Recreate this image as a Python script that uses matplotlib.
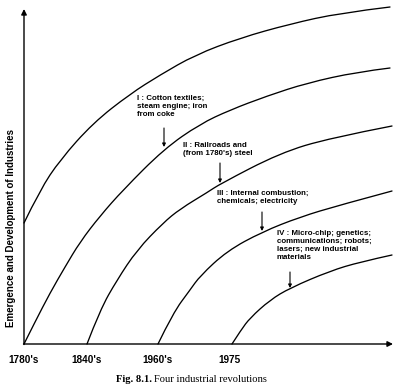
import matplotlib
matplotlib.use("Agg")
import matplotlib.pyplot as plt
from matplotlib.path import Path
from matplotlib.patches import PathPatch

# Curves: (x, y), in chart units (origin at 1780's)
wave_a_x = [0, 16, 36, 69, 106, 136, 171, 216, 266, 316, 366]
wave_a_y = [121, 154, 184, 221, 250, 269, 289, 306, 320, 331, 337]

wave1_x = [0, 11, 26, 41, 56, 76, 99, 140, 176, 206, 243, 283, 333, 366]
wave1_y = [0, 22, 51, 77, 102, 128, 154, 195, 220, 234, 248, 261, 272, 276]

wave2_x = [63, 76, 93, 113, 139, 156, 184, 196, 256, 306, 368]
wave2_y = [0, 34, 64, 94, 121, 135, 152, 160, 191, 206, 218]

wave3_x = [134, 149, 166, 176, 203, 238, 276, 316, 368]
wave3_y = [0, 31, 54, 68, 93, 112, 127, 139, 153]

wave4_x = [208, 217, 226, 246, 266, 306, 336, 368]
wave4_y = [0, 14, 26, 44, 56, 73, 82, 89]

tick_pos = [0, 63, 134, 206]
tick_labels = ["1780's", "1840's", "1960's", "1975"]

labels = [
    "I : Cotton textiles;\nsteam engine; iron\nfrom coke",
    "II : Railroads and\n(from 1780's) steel",
    "III : Internal combustion;\nchemicals; electricity",
    "IV : Micro-chip; genetics;\ncommunications; robots;\nlasers; new industrial\nmaterials",
]
label_xy = [(113, 249), (159, 202), (193, 154), (253, 114)]
arrow_x = [140, 196, 238, 266]
arrow_from = [216, 181, 132, 72]
arrow_to = [197, 161, 113, 56]


def smooth_path(xs, ys):
    """Quadratic Bezier through the midpoints, read points as controls."""
    pts = list(zip(xs, ys))
    verts = [pts[0]]
    codes = [Path.MOVETO]
    for i in range(1, len(pts) - 1):
        mid = ((pts[i][0] + pts[i + 1][0]) / 2, (pts[i][1] + pts[i + 1][1]) / 2)
        if i == len(pts) - 2:
            mid = pts[-1]
        verts += [pts[i], mid]
        codes += [Path.CURVE3, Path.CURVE3]
    return Path(verts, codes)


fig = plt.figure(figsize=(4.02, 3.87), dpi=100)
ax = fig.add_axes([0, 0, 1, 1])
ax.set_xlim(-24, 378)
ax.set_ylim(-43, 344)
ax.axis("off")

for xs, ys in [(wave_a_x, wave_a_y), (wave1_x, wave1_y), (wave2_x, wave2_y),
               (wave3_x, wave3_y), (wave4_x, wave4_y)]:
    ax.add_patch(PathPatch(smooth_path(xs, ys), facecolor="none",
                           edgecolor="black", lw=0.95, capstyle="round"))

# axes with arrows
ax.annotate("", xy=(0, 335), xytext=(0, -0.5),
            arrowprops=dict(arrowstyle="-|>", color="black", lw=1.0,
                            mutation_scale=8, shrinkA=0, shrinkB=0))
ax.annotate("", xy=(369, 0), xytext=(-0.5, 0),
            arrowprops=dict(arrowstyle="-|>", color="black", lw=1.0,
                            mutation_scale=8, shrinkA=0, shrinkB=0))

font = dict(family="Liberation Sans", fontweight="bold")
for x, lab in zip(tick_pos, tick_labels):
    ax.text(x, -16, lab, ha="center", va="center", fontsize=7.2, **font)

ax.text(-13, 116, "Emergence and Development of Industries", rotation=90,
        ha="center", va="center", fontsize=7.0, **font)

for (x, y), txt in zip(label_xy, labels):
    ax.text(x, y, txt, ha="left", va="top", fontsize=5.7,
            linespacing=1.22, **font)

for x, y0, y1 in zip(arrow_x, arrow_from, arrow_to):
    ax.annotate("", xy=(x, y1), xytext=(x, y0),
                arrowprops=dict(arrowstyle="-|>", color="black", lw=0.8,
                                mutation_scale=5, shrinkA=0, shrinkB=0))

ax.text(128, -36, "Fig. 8.1.", ha="right", va="center", fontsize=7.6,
        family="Liberation Serif", fontweight="bold")
ax.text(130, -36, "Four industrial revolutions", ha="left", va="center",
        fontsize=7.6, family="Liberation Serif")

fig.savefig("out.png", dpi=100, facecolor="white")
